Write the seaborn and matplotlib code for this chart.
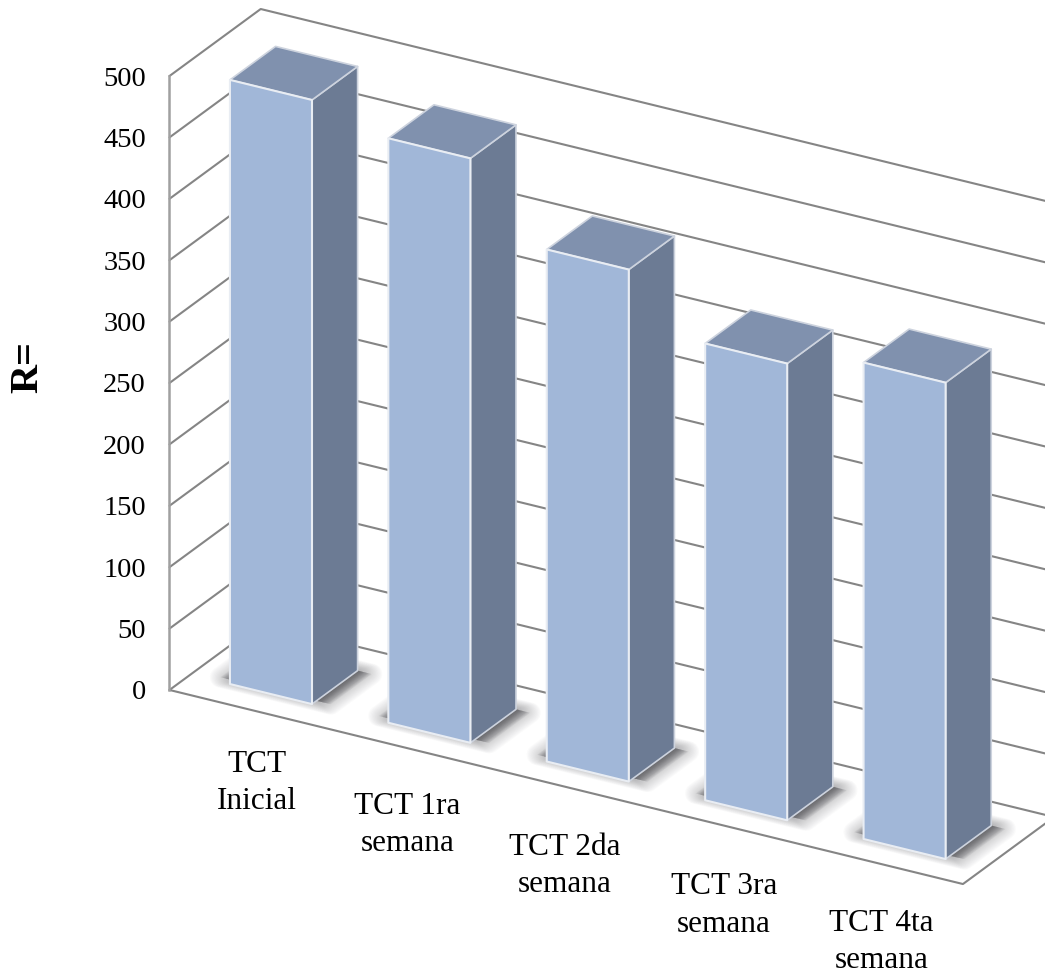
import numpy as np
import matplotlib
matplotlib.use("Agg")
import matplotlib.pyplot as plt
from matplotlib.patches import Polygon
from matplotlib.transforms import Affine2D
import seaborn as sns

# Chart data
categories = ["TCT\nInicial", "TCT 1ra\nsemana", "TCT 2da\nsemana", "TCT 3ra\nsemana", "TCT 4ta\nsemana"]
values = [492, 476, 417, 372, 388]
value_ticks = [0, 50, 100, 150, 200, 250, 300, 350, 400, 450, 500]

# Small hand placement of the category labels, in pixels
label_nudge_x = [7, -1, -2, -1, -2]
label_nudge_y = [0, -3, -5, -6, -4]

# Colours of the box faces
FRONT = "#A1B7D8"
SIDE = "#6C7B94"
TOP = "#8091AE"
EDGE_FRONT = "#E9EDF3"
EDGE_BACK = "#CDD3DE"
WALL = "#858585"

# Oblique projection in (category, value) units
X_LO, X_HI = -0.507, 4.502       # ends of the category axis
SHEAR = 31.55                    # value units dropped per category
DEPTH_X, DEPTH_Y = 0.5758, 54.56 # shift of the full depth of the floor
BAR_T0, BAR_T1 = 0.232, 0.732    # depth range of each box
BAR_WIDTH = 0.518


def project(x, v, t=0.0):
    return (x + t * DEPTH_X, v + t * DEPTH_Y - SHEAR * (x - X_LO))


def plane_transform(t):
    dx = t * DEPTH_X
    dy = t * DEPTH_Y + SHEAR * X_LO
    return Affine2D(np.array([[1, 0, dx], [-SHEAR, 1, dy], [0, 0, 1.0]]))


sns.set_theme(style="white")
plt.rcParams["font.family"] = ["Liberation Serif", "DejaVu Serif"]

fig = plt.figure(figsize=(10.45, 9.74), dpi=100, facecolor="white")
ax = fig.add_axes([0, 0, 1, 1])

sns.barplot(x=list(range(len(values))), y=values, color=FRONT, saturation=1,
            width=BAR_WIDTH, edgecolor=EDGE_FRONT, linewidth=1.5, ax=ax)

ax.set_xlim(-1.577, 5.020)
ax.set_ylim(-231.3, 561.9)
ax.patch.set_visible(False)
for name in ("top", "right", "bottom"):
    ax.spines[name].set_visible(False)
ax.xaxis.set_visible(False)

# The value axis runs up the left edge of the side wall
ax.spines["left"].set_position(("data", X_LO))
ax.spines["left"].set_bounds(0, 500)
ax.spines["left"].set_color("#A0A0A0")
ax.spines["left"].set_linewidth(1.8)
ax.set_yticks(value_ticks)
ax.tick_params(axis="y", length=0, pad=17, labelsize=20.5, labelcolor="black")
ax.set_ylabel("R=", fontsize=29, fontweight="bold", color="black")
ax.yaxis.set_label_coords(46 / 1045, 1 - 367 / 974)

# Gridlines folded along side wall and back wall
for v in value_ticks:
    pts = [project(X_LO, v, 0), project(X_LO, v, 1), project(X_HI, v, 1)]
    xs, ys = zip(*pts)
    ax.plot(xs, ys, color=WALL, lw=1.5, zorder=0.5, solid_capstyle="round")

# Floor outline
floor = [project(X_LO, 0, 0), project(X_HI, 0, 0), project(X_HI, 0, 1)]
xs, ys = zip(*floor)
ax.plot(xs, ys, color=WALL, lw=1.5, zorder=0.5)

# Boxes: front comes from the bar itself, side, top and shadow from its geometry
front_tf = plane_transform(BAR_T0) + ax.transData
for i, (patch, label) in enumerate(zip(list(ax.patches), categories)):
    x0, x1 = patch.get_x(), patch.get_x() + patch.get_width()
    h = patch.get_height()
    patch.set_transform(front_tf)
    patch.set_zorder(3)
    patch.set_joinstyle("round")

    # Soft shadow on the floor: layers widen sideways and grow a rounded rim
    for s in np.linspace(1.0, 0.05, 20):
        spread = 0.09 * s
        t_front = BAR_T0 + 0.05
        base = [project(x0 - spread, 0, t_front), project(x1 + spread, 0, t_front),
                project(x1 + spread, 0, BAR_T1), project(x0 - spread, 0, BAR_T1)]
        ax.add_patch(Polygon(base, closed=True, facecolor=(0.3, 0.3, 0.32, 0.05),
                             edgecolor=(0.3, 0.3, 0.32, 0.025), lw=15 * s,
                             joinstyle="round", zorder=1))

    side = [project(x1, 0, BAR_T0), project(x1, h, BAR_T0),
            project(x1, h, BAR_T1), project(x1, 0, BAR_T1)]
    ax.add_patch(Polygon(side, closed=True, facecolor=SIDE, edgecolor=EDGE_BACK,
                         lw=1.2, joinstyle="round", zorder=2))
    top = [project(x0, h, BAR_T0), project(x1, h, BAR_T0),
           project(x1, h, BAR_T1), project(x0, h, BAR_T1)]
    ax.add_patch(Polygon(top, closed=True, facecolor=TOP, edgecolor=EDGE_BACK,
                         lw=1.2, joinstyle="round", zorder=2))

    # Category label below the floor's front edge
    cx = (x0 + x1) / 2
    ax.annotate(label, xy=project(cx, -60), xycoords="data",
                xytext=(label_nudge_x[i] * 0.72, label_nudge_y[i] * 0.72),
                textcoords="offset points", ha="center", va="center",
                fontsize=22.5, color="black", linespacing=1.38, zorder=4)

fig.savefig("out.png", dpi=100, facecolor="white")
